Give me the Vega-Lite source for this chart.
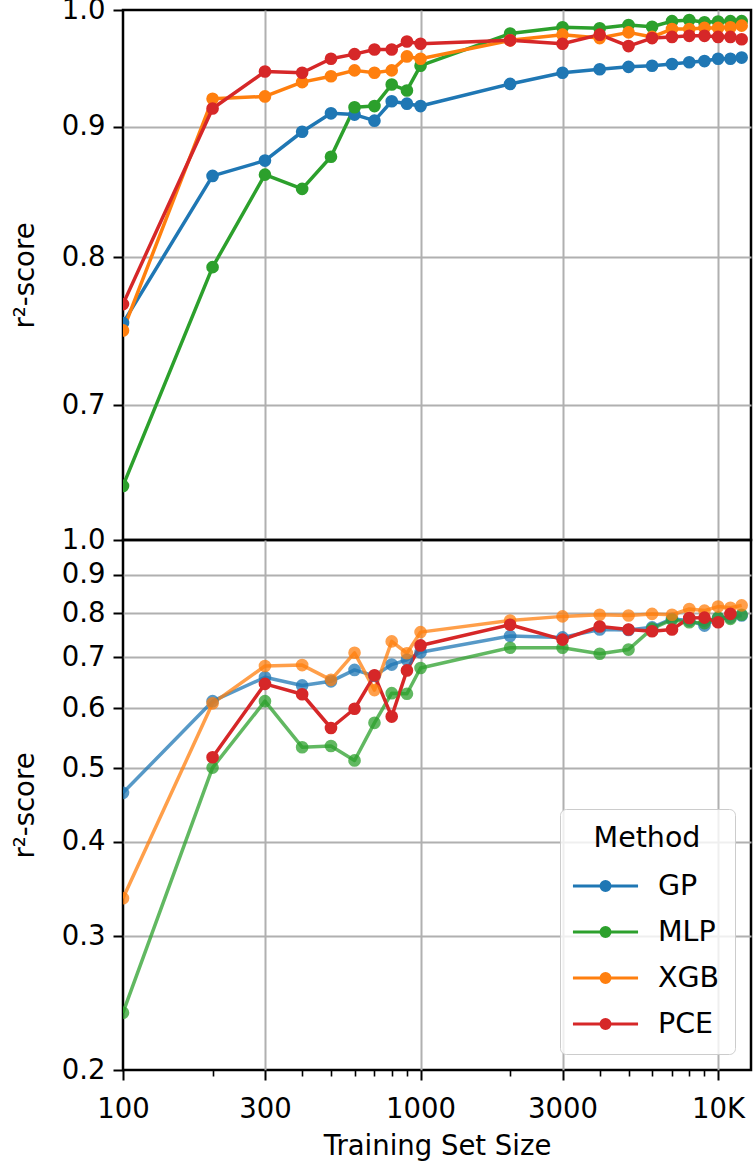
{
  "$schema": "https://vega.github.io/schema/vega-lite/v6.json",
  "autosize": {"type": "pad"},
  "padding": {"left": 10, "top": -6, "right": 1, "bottom": 5},
  "background": "white",
  "spacing": 0,
  "bounds": "flush",
  "datasets": {
    "top": [
      {"n":100,"m":"GP","r":0.754},{"n":200,"m":"GP","r":0.861},{"n":300,"m":"GP","r":0.873},{"n":400,"m":"GP","r":0.896},{"n":500,"m":"GP","r":0.911},{"n":600,"m":"GP","r":0.910},{"n":700,"m":"GP","r":0.905},{"n":800,"m":"GP","r":0.921},{"n":900,"m":"GP","r":0.919},{"n":1000,"m":"GP","r":0.917},{"n":2000,"m":"GP","r":0.9355},{"n":3000,"m":"GP","r":0.945},{"n":4000,"m":"GP","r":0.948},{"n":5000,"m":"GP","r":0.950},{"n":6000,"m":"GP","r":0.951},{"n":7000,"m":"GP","r":0.9525},{"n":8000,"m":"GP","r":0.954},{"n":9000,"m":"GP","r":0.955},{"n":10000,"m":"GP","r":0.957},{"n":11000,"m":"GP","r":0.957},{"n":12000,"m":"GP","r":0.958},
      {"n":100,"m":"MLP","r":0.651},{"n":200,"m":"MLP","r":0.793},{"n":300,"m":"MLP","r":0.862},{"n":400,"m":"MLP","r":0.851},{"n":500,"m":"MLP","r":0.876},{"n":600,"m":"MLP","r":0.916},{"n":700,"m":"MLP","r":0.917},{"n":800,"m":"MLP","r":0.935},{"n":900,"m":"MLP","r":0.930},{"n":1000,"m":"MLP","r":0.951},{"n":2000,"m":"MLP","r":0.979},{"n":3000,"m":"MLP","r":0.9845},{"n":4000,"m":"MLP","r":0.9836},{"n":5000,"m":"MLP","r":0.9866},{"n":6000,"m":"MLP","r":0.985},{"n":7000,"m":"MLP","r":0.990},{"n":8000,"m":"MLP","r":0.991},{"n":9000,"m":"MLP","r":0.989},{"n":10000,"m":"MLP","r":0.9896},{"n":11000,"m":"MLP","r":0.990},{"n":12000,"m":"MLP","r":0.990},
      {"n":100,"m":"XGB","r":0.749},{"n":200,"m":"XGB","r":0.923},{"n":300,"m":"XGB","r":0.925},{"n":400,"m":"XGB","r":0.937},{"n":500,"m":"XGB","r":0.942},{"n":600,"m":"XGB","r":0.947},{"n":700,"m":"XGB","r":0.945},{"n":800,"m":"XGB","r":0.947},{"n":900,"m":"XGB","r":0.959},{"n":1000,"m":"XGB","r":0.957},{"n":2000,"m":"XGB","r":0.973},{"n":3000,"m":"XGB","r":0.978},{"n":4000,"m":"XGB","r":0.975},{"n":5000,"m":"XGB","r":0.980},{"n":6000,"m":"XGB","r":0.976},{"n":7000,"m":"XGB","r":0.983},{"n":8000,"m":"XGB","r":0.983},{"n":9000,"m":"XGB","r":0.984},{"n":10000,"m":"XGB","r":0.984},{"n":11000,"m":"XGB","r":0.9845},{"n":12000,"m":"XGB","r":0.986},
      {"n":100,"m":"PCE","r":0.767},{"n":200,"m":"PCE","r":0.915},{"n":300,"m":"PCE","r":0.946},{"n":400,"m":"PCE","r":0.945},{"n":500,"m":"PCE","r":0.957},{"n":600,"m":"PCE","r":0.961},{"n":700,"m":"PCE","r":0.965},{"n":800,"m":"PCE","r":0.965},{"n":900,"m":"PCE","r":0.972},{"n":1000,"m":"PCE","r":0.970},{"n":2000,"m":"PCE","r":0.973},{"n":3000,"m":"PCE","r":0.970},{"n":4000,"m":"PCE","r":0.978},{"n":5000,"m":"PCE","r":0.968},{"n":6000,"m":"PCE","r":0.975},{"n":7000,"m":"PCE","r":0.976},{"n":8000,"m":"PCE","r":0.977},{"n":9000,"m":"PCE","r":0.977},{"n":10000,"m":"PCE","r":0.976},{"n":11000,"m":"PCE","r":0.976},{"n":12000,"m":"PCE","r":0.974}
    ],
    "bottom": [
      {"n":100,"m":"GP","r":0.464},{"n":200,"m":"GP","r":0.613},{"n":300,"m":"GP","r":0.659},{"n":400,"m":"GP","r":0.643},{"n":500,"m":"GP","r":0.651},{"n":600,"m":"GP","r":0.674},{"n":700,"m":"GP","r":0.662},{"n":800,"m":"GP","r":0.685},{"n":900,"m":"GP","r":0.695},{"n":1000,"m":"GP","r":0.711},{"n":2000,"m":"GP","r":0.747},{"n":3000,"m":"GP","r":0.744},{"n":4000,"m":"GP","r":0.762},{"n":5000,"m":"GP","r":0.761},{"n":6000,"m":"GP","r":0.767},{"n":7000,"m":"GP","r":0.787},{"n":8000,"m":"GP","r":0.783},{"n":9000,"m":"GP","r":0.771},{"n":10000,"m":"GP","r":0.789},{"n":11000,"m":"GP","r":0.790},{"n":12000,"m":"GP","r":0.795},
      {"n":100,"m":"MLP","r":0.238},{"n":200,"m":"MLP","r":0.501},{"n":300,"m":"MLP","r":0.613},{"n":400,"m":"MLP","r":0.533},{"n":500,"m":"MLP","r":0.535},{"n":600,"m":"MLP","r":0.512},{"n":700,"m":"MLP","r":0.574},{"n":800,"m":"MLP","r":0.628},{"n":900,"m":"MLP","r":0.627},{"n":1000,"m":"MLP","r":0.678},{"n":2000,"m":"MLP","r":0.721},{"n":3000,"m":"MLP","r":0.721},{"n":4000,"m":"MLP","r":0.708},{"n":5000,"m":"MLP","r":0.717},{"n":6000,"m":"MLP","r":0.764},{"n":7000,"m":"MLP","r":0.785},{"n":8000,"m":"MLP","r":0.779},{"n":9000,"m":"MLP","r":0.777},{"n":10000,"m":"MLP","r":0.790},{"n":11000,"m":"MLP","r":0.787},{"n":12000,"m":"MLP","r":0.797},
      {"n":100,"m":"XGB","r":0.337},{"n":200,"m":"XGB","r":0.609},{"n":300,"m":"XGB","r":0.682},{"n":400,"m":"XGB","r":0.684},{"n":500,"m":"XGB","r":0.654},{"n":600,"m":"XGB","r":0.710},{"n":700,"m":"XGB","r":0.634},{"n":800,"m":"XGB","r":0.735},{"n":900,"m":"XGB","r":0.709},{"n":1000,"m":"XGB","r":0.756},{"n":2000,"m":"XGB","r":0.783},{"n":3000,"m":"XGB","r":0.793},{"n":4000,"m":"XGB","r":0.797},{"n":5000,"m":"XGB","r":0.795},{"n":6000,"m":"XGB","r":0.799},{"n":7000,"m":"XGB","r":0.797},{"n":8000,"m":"XGB","r":0.811},{"n":9000,"m":"XGB","r":0.807},{"n":10000,"m":"XGB","r":0.817},{"n":11000,"m":"XGB","r":0.814},{"n":12000,"m":"XGB","r":0.820},
      {"n":200,"m":"PCE","r":0.517},{"n":300,"m":"PCE","r":0.646},{"n":400,"m":"PCE","r":0.626},{"n":500,"m":"PCE","r":0.565},{"n":600,"m":"PCE","r":0.599},{"n":700,"m":"PCE","r":0.663},{"n":800,"m":"PCE","r":0.585},{"n":900,"m":"PCE","r":0.673},{"n":1000,"m":"PCE","r":0.726},{"n":2000,"m":"PCE","r":0.773},{"n":3000,"m":"PCE","r":0.739},{"n":4000,"m":"PCE","r":0.769},{"n":5000,"m":"PCE","r":0.762},{"n":6000,"m":"PCE","r":0.758},{"n":7000,"m":"PCE","r":0.762},{"n":8000,"m":"PCE","r":0.789},{"n":9000,"m":"PCE","r":0.790},{"n":10000,"m":"PCE","r":0.779},{"n":11000,"m":"PCE","r":0.799}
    ]
  },
  "resolve": {"scale": {"color": "shared"}, "legend": {"color": "independent"}},
  "vconcat": [
    {
      "width": 628,
      "height": 530,
      "data": {"name": "top"},
      "encoding": {
        "x": {"field": "n", "type": "quantitative",
              "scale": {"type": "log", "domain": [100, 12900], "nice": false},
              "axis": {"values": [100, 300, 1000, 3000, 10000], "labels": false, "ticks": false, "title": null,
                       "gridOpacity": {"condition": {"test": "datum.value <= 100", "value": 0}, "value": 1}}},
        "y": {"field": "r", "type": "quantitative",
              "scale": {"type": "log", "domain": [0.62, 1.0], "nice": false},
              "axis": {"values": [0.7, 0.8, 0.9, 1.0], "format": ".1f", "title": "r²-score",
                       "gridOpacity": {"condition": {"test": "datum.value >= 0.999", "value": 0}, "value": 1}}},
        "color": {"field": "m", "type": "nominal",
                  "scale": {"domain": ["GP", "MLP", "XGB", "PCE"], "range": ["#1f77b4", "#2ca02c", "#ff7f0e", "#d62728"]},
                  "legend": null}
      },
      "layer": [
        {"mark": {"type": "line", "strokeWidth": 3.5, "strokeJoin": "round", "clip": true}},
        {"mark": {"type": "point", "filled": true, "size": 160, "opacity": 1, "clip": true}}
      ]
    },
    {
      "width": 628,
      "height": 530,
      "data": {"name": "bottom"},
      "encoding": {
        "x": {"field": "n", "type": "quantitative",
              "scale": {"type": "log", "domain": [100, 12900], "nice": false},
              "axis": {"values": [100, 200, 300, 400, 500, 600, 700, 800, 900, 1000, 2000, 3000, 4000, 5000, 6000, 7000, 8000, 9000, 10000],
                       "title": "Training Set Size", "titlePadding": 10, "labelPadding": 15,
                       "labelExpr": "datum.value == 10000 ? '10K' : (indexof([100, 300, 1000, 3000], datum.value) >= 0 ? format(datum.value, 'd') : '')",
                       "tickSize": {"condition": {"test": "indexof([100, 300, 1000, 3000, 10000], datum.value) >= 0", "value": 10}, "value": 6},
                       "tickWidth": {"condition": {"test": "indexof([100, 300, 1000, 3000, 10000], datum.value) >= 0", "value": 2}, "value": 1.6},
                       "gridOpacity": {"condition": {"test": "indexof([300, 1000, 3000, 10000], datum.value) >= 0", "value": 1}, "value": 0}}},
        "y": {"field": "r", "type": "quantitative",
              "scale": {"type": "log", "domain": [0.2, 1.0], "nice": false},
              "axis": {"values": [0.2, 0.3, 0.4, 0.5, 0.6, 0.7, 0.8, 0.9, 1.0], "format": ".1f", "title": "r²-score",
                       "gridOpacity": {"condition": {"test": "datum.value >= 0.999 || datum.value <= 0.2001", "value": 0}, "value": 1}}},
        "color": {"field": "m", "type": "nominal",
                  "scale": {"domain": ["GP", "MLP", "XGB", "PCE"], "range": ["#1f77b4", "#2ca02c", "#ff7f0e", "#d62728"]},
                  "legend": {
                    "title": "Method", "orient": "bottom-right", "offset": 16,
                    "symbolType": "M-2.17,0H2.17M0.3,0A0.3,0.3,0,1,1,-0.3,0A0.3,0.3,0,1,1,0.3,0Z",
                    "symbolSize": 900, "symbolStrokeWidth": 3, "symbolOffset": 14,
                    "labelFontSize": 28.5, "labelFont": "DejaVu Sans", "labelColor": "black", "labelOffset": 36,
                    "titleFontSize": 28.5, "titleFont": "DejaVu Sans", "titleFontWeight": "normal", "titleColor": "black",
                    "titleAnchor": "middle", "titlePadding": 17,
                    "padding": 15, "rowPadding": 15,
                    "strokeColor": "#cccccc", "fillColor": "rgba(255,255,255,0.8)", "cornerRadius": 6,
                    "encode": {
                      "legend": {"update": {"strokeWidth": {"value": 2}}},
                      "symbols": {"update": {
                        "fill": {"scale": "color", "field": "value"},
                        "stroke": {"scale": "color", "field": "value"},
                        "fillOpacity": {"value": 1},
                        "opacity": {"signal": "datum.value === 'PCE' ? 1 : 0.75"}}}}
                  }},
        "opacity": {"condition": {"test": "datum.m === 'PCE'", "value": 1}, "value": 0.75}
      },
      "layer": [
        {"mark": {"type": "line", "strokeWidth": 3.5, "strokeJoin": "round", "clip": true}},
        {"mark": {"type": "point", "filled": true, "size": 160, "clip": true}}
      ]
    }
  ],
  "config": {
    "font": "DejaVu Sans",
    "view": {"stroke": "black", "strokeWidth": 2.5},
    "axis": {
      "labelFont": "DejaVu Sans", "labelFontSize": 27.5, "labelColor": "black",
      "titleFont": "DejaVu Sans", "titleFontSize": 27.5, "titleFontWeight": "normal", "titleColor": "black",
      "tickColor": "black", "tickWidth": 2, "tickSize": 10, "labelPadding": 8,
      "domain": false, "gridColor": "#b0b0b0", "gridWidth": 2,
      "labelFlush": false, "labelOverlap": false
    },
    "axisY": {"titlePadding": 22}
  }
}
